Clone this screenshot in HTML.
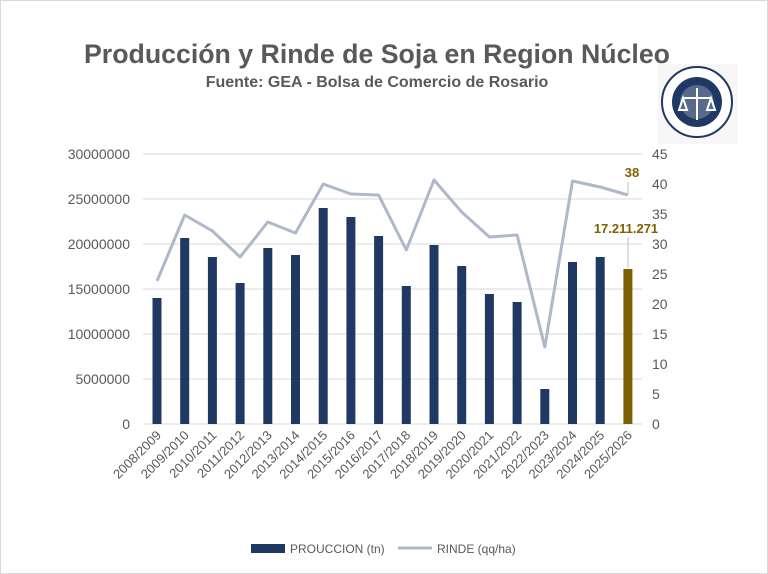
<!DOCTYPE html>
<html><head><meta charset="utf-8"><style>
body{margin:0;background:#fff;}
svg{display:block;font-family:"Liberation Sans","DejaVu Sans",sans-serif;}
</style></head><body>
<svg width="768" height="574" viewBox="0 0 768 574" xmlns="http://www.w3.org/2000/svg">
<rect x="0.5" y="0.5" width="767" height="573" fill="#fff" stroke="#d9d9d9"/>
<text x="377" y="63" text-anchor="middle" font-size="27" font-weight="bold" fill="#595959" textLength="586" lengthAdjust="spacingAndGlyphs">Producción y Rinde de Soja en Region Núcleo</text>
<text x="377" y="87" text-anchor="middle" font-size="16" font-weight="bold" fill="#595959">Fuente: GEA - Bolsa de Comercio de Rosario</text>
<rect x="658" y="64" width="80" height="80" fill="#f7f7f7"/>
<g transform="translate(697,102)">
<circle r="35" fill="#fff" stroke="#1f3864" stroke-width="2"/>
<circle r="25" fill="#1f3864"/>
<circle r="17" fill="#fff" opacity="0.25"/>
<path d="M-14,-4 L14,-4 M0,-14 L0,18 M-14,-4 L-18,8 L-10,8 Z M14,-4 L10,8 L18,8 Z" stroke="#fff" stroke-width="2" fill="none"/>
</g>
<g stroke="#d9d9d9" stroke-width="1">
<line x1="143" x2="642" y1="154" y2="154"/><line x1="143" x2="642" y1="199" y2="199"/>
<line x1="143" x2="642" y1="244" y2="244"/><line x1="143" x2="642" y1="289" y2="289"/>
<line x1="143" x2="642" y1="334" y2="334"/><line x1="143" x2="642" y1="379" y2="379"/>
<line x1="143" x2="642" y1="424" y2="424"/>
</g>
<g font-size="14" fill="#595959" text-anchor="end">
<text x="130" y="159">30000000</text><text x="130" y="204">25000000</text><text x="130" y="249">20000000</text>
<text x="130" y="294">15000000</text><text x="130" y="339">10000000</text><text x="130" y="384">5000000</text><text x="130" y="429">0</text>
</g>
<g font-size="14" fill="#595959">
<text x="652" y="159">45</text><text x="652" y="189">40</text><text x="652" y="219">35</text><text x="652" y="249">30</text>
<text x="652" y="279">25</text><text x="652" y="309">20</text><text x="652" y="339">15</text><text x="652" y="369">10</text>
<text x="652" y="399">5</text><text x="652" y="429">0</text>
</g>
<g fill="#1f3864">
<rect x="152.5" y="298" width="9" height="126"/><rect x="180.2" y="238" width="9" height="186"/>
<rect x="207.9" y="257" width="9" height="167"/><rect x="235.6" y="283" width="9" height="141"/>
<rect x="263.3" y="248" width="9" height="176"/><rect x="291" y="255" width="9" height="169"/>
<rect x="318.7" y="208" width="9" height="216"/><rect x="346.4" y="217" width="9" height="207"/>
<rect x="374.1" y="236" width="9" height="188"/><rect x="401.8" y="286" width="9" height="138"/>
<rect x="429.5" y="245" width="9" height="179"/><rect x="457.2" y="266" width="9" height="158"/>
<rect x="484.9" y="294" width="9" height="130"/><rect x="512.6" y="302" width="9" height="122"/>
<rect x="540.3" y="389" width="9" height="35"/><rect x="568" y="262" width="9" height="162"/>
<rect x="595.7" y="257" width="9" height="167"/>
</g>
<rect x="623.4" y="269" width="9" height="155" fill="#7f6000"/>
<polyline fill="none" stroke="#adb9ca" stroke-width="3" stroke-linejoin="round" points="157,281 184.7,215 212.4,231 240.1,257 267.8,222 295.5,233 323.2,184 350.9,194 378.6,195 406.3,250 434,180 461.7,212 489.4,237 517.1,235 544.8,347 572.5,181 600.2,187 627.9,195"/>
<line x1="628" y1="182" x2="628" y2="194" stroke="#bfbfbf"/>
<line x1="628" y1="237" x2="628" y2="268" stroke="#bfbfbf"/>
<text x="632" y="177" text-anchor="middle" font-size="13" font-weight="bold" fill="#7f6000">38</text>
<text x="626" y="233" text-anchor="middle" font-size="13" font-weight="bold" fill="#7f6000">17.211.271</text>
<g font-size="13" fill="#595959" text-anchor="end">
<text transform="translate(162,436) rotate(-45)">2008/2009</text>
<text transform="translate(189.7,436) rotate(-45)">2009/2010</text>
<text transform="translate(217.4,436) rotate(-45)">2010/2011</text>
<text transform="translate(245.1,436) rotate(-45)">2011/2012</text>
<text transform="translate(272.8,436) rotate(-45)">2012/2013</text>
<text transform="translate(300.5,436) rotate(-45)">2013/2014</text>
<text transform="translate(328.2,436) rotate(-45)">2014/2015</text>
<text transform="translate(355.9,436) rotate(-45)">2015/2016</text>
<text transform="translate(383.6,436) rotate(-45)">2016/2017</text>
<text transform="translate(411.3,436) rotate(-45)">2017/2018</text>
<text transform="translate(439,436) rotate(-45)">2018/2019</text>
<text transform="translate(466.7,436) rotate(-45)">2019/2020</text>
<text transform="translate(494.4,436) rotate(-45)">2020/2021</text>
<text transform="translate(522.1,436) rotate(-45)">2021/2022</text>
<text transform="translate(549.8,436) rotate(-45)">2022/2023</text>
<text transform="translate(577.5,436) rotate(-45)">2023/2024</text>
<text transform="translate(605.2,436) rotate(-45)">2024/2025</text>
<text transform="translate(632.9,436) rotate(-45)">2025/2026</text>
</g>
<rect x="251" y="544" width="34" height="9" fill="#1f3864"/>
<text x="290" y="553" font-size="12" fill="#595959">PROUCCION (tn)</text>
<line x1="398" x2="432" y1="548" y2="548" stroke="#adb9ca" stroke-width="3"/>
<text x="437" y="553" font-size="12" fill="#595959">RINDE (qq/ha)</text>
</svg>
</body></html>
